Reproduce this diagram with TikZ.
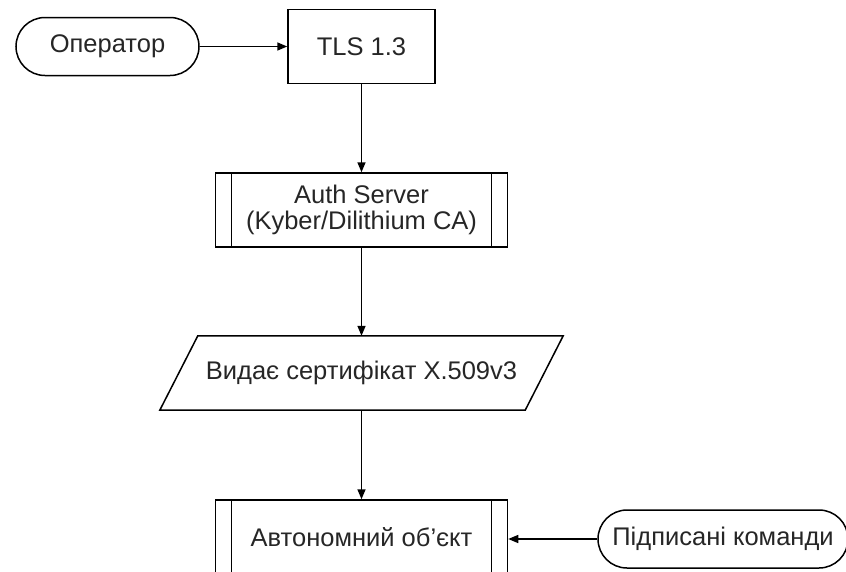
\documentclass[tikz,border=0pt]{standalone}
\usepackage{fontspec}
\setmainfont{Liberation Sans}
\usetikzlibrary{arrows.meta,calc}
\tikzset{
  base/.style={inner sep=0pt, font=\fontsize{25.5}{25.5}\selectfont, align=center, text=black!85},
  pill/.style={base, draw, line width=1.5pt, rounded corners=29pt, minimum height=58pt},
  procbox/.style={base, draw, line width=1.5pt},
  predef/.style={base, draw, line width=1.5pt,
    path picture={
      \draw[line width=1.5pt] ([xshift=16pt]path picture bounding box.north west) -- ([xshift=16pt]path picture bounding box.south west);
      \draw[line width=1.5pt] ([xshift=-16pt]path picture bounding box.north east) -- ([xshift=-16pt]path picture bounding box.south east);
    }},
  databox/.style={base},
  conn/.style={line width=1.5pt, -{Triangle[length=10pt,width=8pt]}},
}
\begin{document}
\begin{tikzpicture}[x=1pt,y=-1pt]
\useasboundingbox (0,0) rectangle (846,571);
\node[pill, minimum width=183pt] (op) at (107.5,46.5) {Оператор};
\node[procbox, minimum width=147pt, minimum height=74pt] (tls) at (361.5,46.5) {TLS 1.3};
\node[predef, minimum width=292pt, minimum height=74pt] (auth) at (361.5,210) {Auth Server\\(Kyber/Dilithium CA)};
\node[databox, minimum width=403pt, minimum height=74pt] (cert) at (361.5,373) {Видає сертифікат X.509v3};
\draw[line width=1.5pt, line join=miter] ($(cert.north west)+(38,0)$) -- (cert.north east) -- ($(cert.south east)+(-38,0)$) -- (cert.south west) -- cycle;
\node[predef, minimum width=292pt, minimum height=74pt] (auto) at (361.5,537) {Автономний об’єкт};
\node[pill, minimum width=250pt] (cmd) at (723,539) {Підписані команди};
\draw[conn] (op.east) -- (tls.west);
\draw[conn] (tls.south) -- (auth.north);
\draw[conn] (auth.south) -- (cert.north);
\draw[conn] (cert.south) -- (auto.north);
\draw[conn] (cmd.west) -- (cmd.west -| auto.east);
\end{tikzpicture}
\end{document}
